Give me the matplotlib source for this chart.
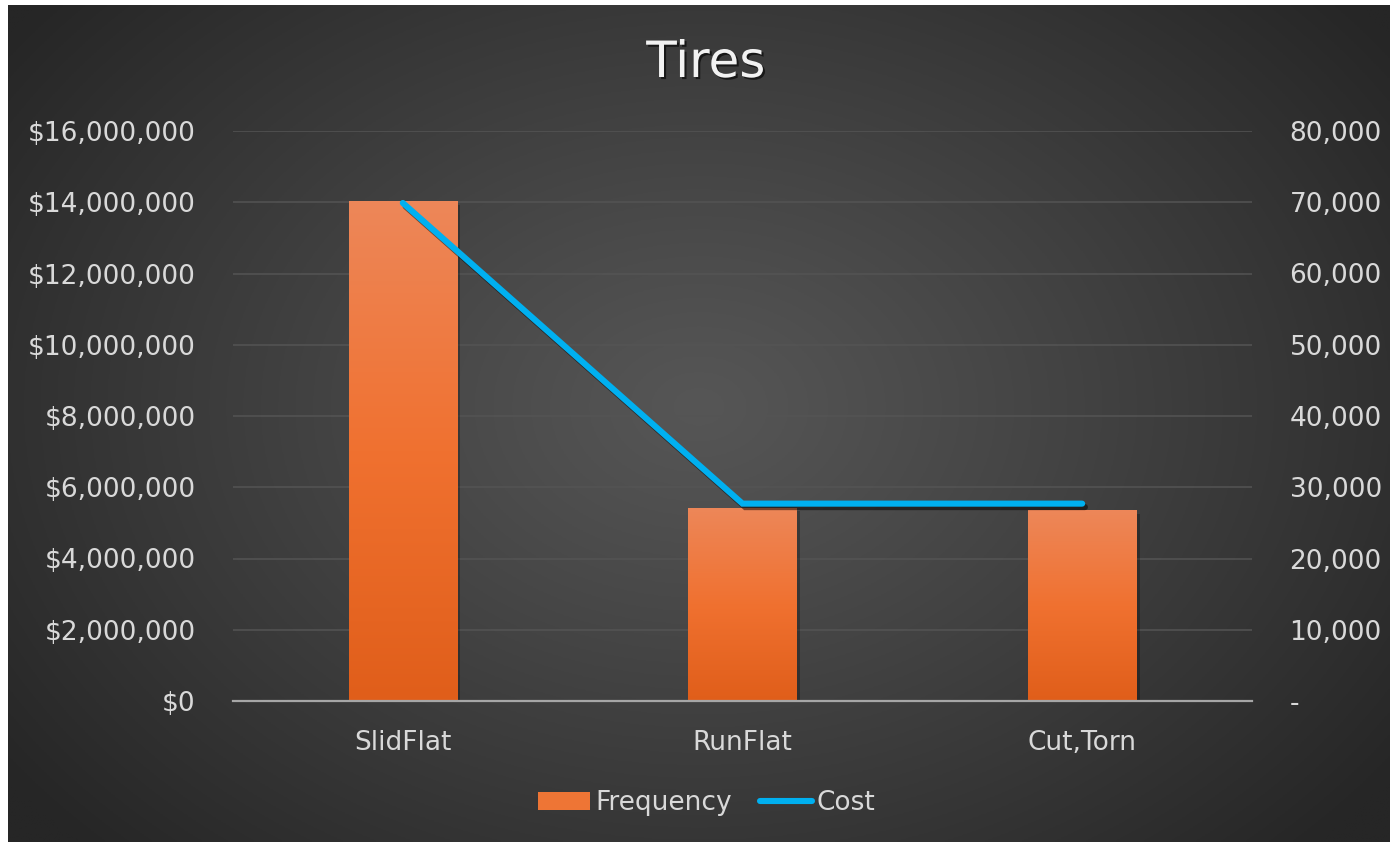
import numpy as np
import matplotlib
matplotlib.use("Agg")
import matplotlib.pyplot as plt
import matplotlib.patheffects as pe
from matplotlib.ticker import FuncFormatter, MultipleLocator
from matplotlib.patches import Rectangle
from matplotlib.lines import Line2D
from matplotlib.colors import LinearSegmentedColormap

categories = ["SlidFlat", "RunFlat", "Cut,Torn"]
frequency = [14030000, 5420000, 5360000]
cost = [69900, 27700, 27700]
title = "Tires"

plt.rcParams['font.family'] = ['DejaVu Sans']
W, H = 1391, 842
fig = plt.figure(figsize=(W / 100, H / 100), dpi=100, facecolor="white")

# background panel with radial gradient
bg = fig.add_axes([8 / W, 0, (W - 9) / W, (H - 5) / H], zorder=-10)
yy, xx = np.mgrid[0:1:300j, 0:1:500j]
r = np.sqrt(((xx - 0.5) / 0.62) ** 2 + ((yy - 0.52) / 0.75) ** 2)
r = np.clip(r, 0, 1)
c0, c1 = 0x56, 0x26
vals = (c0 + (c1 - c0) * r ** 1.1) / 255.0
bg.imshow(np.dstack([vals, vals, vals]), aspect="auto", extent=[0, 1, 0, 1], origin="lower")
bg.set_axis_off()

FS = 19
ax = fig.add_axes([233 / W, 1 - 701 / H, (1252 - 233) / W, (701 - 131) / H])
ax.set_facecolor("none")
x = np.arange(len(categories))
ax.grid(axis="y", color="#545454", linewidth=1.1)
ax.set_axisbelow(True)
for s in ["top", "right", "left"]:
    ax.spines[s].set_visible(False)
ax.spines["bottom"].set_color("#A6A6A6")
ax.spines["bottom"].set_linewidth(1.6)
ax.spines["bottom"].set_zorder(5)
ax.set_xticks(x)
ax.set_xticklabels(categories)
ax.tick_params(axis="both", length=0, colors="#D9D9D9", labelsize=FS)
ax.tick_params(axis="y", pad=27)
ax.tick_params(axis="x", pad=21)

bars = ax.bar(x, frequency, width=0.318, color="#EE7535", zorder=2,
              path_effects=[pe.SimplePatchShadow(offset=(2.5, -2.5), shadow_rgbFace="black", alpha=0.25), pe.Normal()])
grad = np.linspace(0, 1, 256).reshape(-1, 1)
cmap = LinearSegmentedColormap.from_list("bar", ["#E05E1A", "#F07130", "#ED8759"])
for b in bars:
    im = ax.imshow(grad, cmap=cmap, aspect="auto", origin="lower",
                   extent=[b.get_x(), b.get_x() + b.get_width(), 0, b.get_height()], zorder=3)
    im.set_clip_path(b)
ax.set_xlim(-0.5, len(categories) - 0.5)
ax.set_ylim(0, 16000000)
ax.yaxis.set_major_locator(MultipleLocator(2000000))
ax.yaxis.set_major_formatter(FuncFormatter(lambda v, p: "${:,.0f}".format(v)))

ax2 = ax.twinx()
ax2.set_ylim(0, 80000)
ax2.yaxis.set_major_locator(MultipleLocator(10000))
ax2.yaxis.set_major_formatter(FuncFormatter(lambda v, p: "-" if v == 0 else "{:,.0f}".format(v)))
for s in ax2.spines.values():
    s.set_visible(False)
ax2.tick_params(axis="y", length=0, colors="#D9D9D9", labelsize=FS, pad=27)
ax2.plot(x, cost, color="#00B0F0", linewidth=4.4, solid_capstyle="round",
         solid_joinstyle="miter", zorder=4,
         path_effects=[pe.SimpleLineShadow(offset=(2, -2.5), shadow_color="black", alpha=0.5), pe.Normal()])

fig.text(706 / W, 1 - 63 / H, title, ha="center", va="center", fontsize=36, color="#F2F2F2",
         path_effects=[pe.withSimplePatchShadow(offset=(1.5, -1.5), shadow_rgbFace="black", alpha=0.6)])

# legend
handles = [Rectangle((0, 0), 1, 1, facecolor="#EE7535"),
           Line2D([0], [0], color="#00B0F0", linewidth=4.4, solid_capstyle="round")]
fig.legend(handles, ["Frequency", "Cost"], loc="center", bbox_to_anchor=(707 / W, 1 - 803 / H),
           ncol=2, frameon=False, fontsize=FS, labelcolor="#D9D9D9",
           handlelength=1.97, handleheight=0.7, handletextpad=0.19, columnspacing=1.06)

fig.savefig("out.png", dpi=100, facecolor="white")
